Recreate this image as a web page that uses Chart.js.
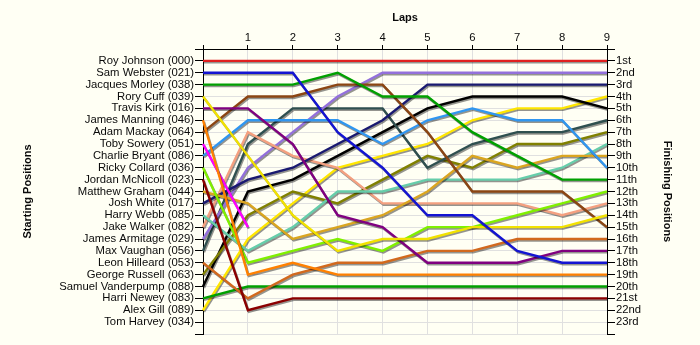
<!DOCTYPE html>
<html>
<head>
<meta charset="utf-8">
<script src="https://cdn.jsdelivr.net/npm/chart.js@4.4.1/dist/chart.umd.min.js"></script>
<style>
  html, body { margin: 0; padding: 0; background: #fffff4; }
  canvas { display: block; background: #fffff4; }
</style>
</head>
<body>
<canvas id="lapChart" width="700" height="345"></canvas>
<script>
// Grid order (left axis) and finishing places (right axis)
const drivers = [
  'Roy Johnson (000)', 'Sam Webster (021)', 'Jacques Morley (038)', 'Rory Cuff (039)',
  'Travis Kirk (016)', 'James Manning (046)', 'Adam Mackay (064)', 'Toby Sowery (051)',
  'Charlie Bryant (086)', 'Ricky Collard (036)', 'Jordan McNicoll (023)', 'Matthew Graham (044)',
  'Josh White (017)', 'Harry Webb (085)', 'Jake Walker (082)', 'James Armitage (029)',
  'Max Vaughan (056)', 'Leon Hilleard (053)', 'George Russell (063)', 'Samuel Vanderpump (088)',
  'Harri Newey (083)', 'Alex Gill (089)', 'Tom Harvey (034)'
];
const finishLabels = [
  '1st', '2nd', '3rd', '4th', '5th', '6th', '7th', '8th', '9th', '10th', '11th', '12th',
  '13th', '14th', '15th', '16th', '17th', '18th', '19th', '20th', '21st', '22nd', '23rd'
];
const lapLabels = ['', '1', '2', '3', '4', '5', '6', '7', '8', '9'];

// Running order after each lap (index 0 = starting grid)
const royJohnson       = [1, 1, 1, 1, 1, 1, 1, 1, 1, 1];
const samWebster       = [2, 2, 2, 7, 10, 14, 14, 17, 18, 18];
const jacquesMorley    = [3, 3, 3, 2, 4, 4, 7, 9, 11, 11];
const roryCuff         = [4, 9, 14, 17, 16, 16, 15, 15, 15, 14];
const travisKirk       = [5, 5, 8, 14, 15, 18, 18, 18, 17, 17];
const jamesManning     = [6, 19, 18, 19, 19, 19, 19, 19, 19, 19];
const adamMackay       = [7, 4, 4, 3, 3, 7, 12, 12, 12, 15];
const tobySowery       = [8, 15];
const charlieBryant    = [9, 6, 6, 6, 8, 6, 5, 6, 6, 10];
const rickyCollard     = [10, 18, 17, 16, 17, 15, 15, 14, 13, 12];
const jordanMcNicoll   = [11, 22, 21, 21, 21, 21, 21, 21, 21, 21];
const matthewGraham    = [12, 13, 16, 15, 14, 12, 9, 10, 9, 9];
const joshWhite        = [13, 11, 10, 8, 6, 3, 3, 3, 3, 3];
const harryWebb        = [14, 17, 15, 12, 12, 11, 11, 11, 10, 8];
const jakeWalker       = [15, 7, 9, 10, 13, 13, 13, 13, 14, 13];
const jamesArmitage    = [16, 10, 7, 4, 2, 2, 2, 2, 2, 2];
const maxVaughan       = [17, 8, 5, 5, 5, 10, 8, 7, 7, 6];
const leonHilleard     = [18, 21, 19, 18, 18, 17, 17, 16, 16, 16];
const georgeRussell    = [19, 14, 12, 13, 11, 9, 10, 8, 8, 7];
const samuelVanderpump = [20, 12, 11, 9, 7, 5, 4, 4, 4, 5];
const harriNewey       = [21, 20, 20, 20, 20, 20, 20, 20, 20, 20];
const alexGill         = [22, 16, 13, 10, 9, 8, 6, 5, 5, 4];
const tomHarvey        = [];

const runningOrder = [
  royJohnson, samWebster, jacquesMorley, roryCuff, travisKirk, jamesManning, adamMackay,
  tobySowery, charlieBryant, rickyCollard, jordanMcNicoll, matthewGraham, joshWhite,
  harryWebb, jakeWalker, jamesArmitage, maxVaughan, leonHilleard, georgeRussell,
  samuelVanderpump, harriNewey, alexGill, tomHarvey
];

const lineColours = [
  '#e02020', '#1414d2', '#00a000', '#f2e200', '#800080', '#ff8000', '#8b4513',
  '#ff00ff', '#3096f0', '#80f000', '#8b0000', '#daa520', '#191970',
  '#66cdaa', '#f4a080', '#9370db', '#2f4f4f', '#d2691e', '#808000',
  '#000000', '#00a000', '#ffe600', '#808080'
];

const FONT = 'Liberation Sans, Arial, sans-serif';
const TEXT = '#0a0a0a';

// Soft grey drop shadow under every race line
const lineShadow = {
  id: 'lineShadow',
  beforeDatasetDraw(chart) {
    const c = chart.ctx;
    c.save();
    c.shadowColor = 'rgba(0,0,0,0.42)';
    c.shadowOffsetX = 1;
    c.shadowOffsetY = 1.5;
    c.shadowBlur = 0;
  },
  afterDatasetDraw(chart) {
    chart.ctx.restore();
  }
};

const datasets = drivers.map((name, i) => ({
  label: name,
  data: runningOrder[i].map((pos, lap) => ({ x: lap, y: pos })),
  borderColor: lineColours[i],
  backgroundColor: lineColours[i],
  borderWidth: 2.4,
  pointRadius: 0,
  pointHoverRadius: 0,
  tension: 0,
  fill: false,
  clip: false
}));

const gridColour = '#e0e0e0';

new Chart(document.getElementById('lapChart'), {
  type: 'line',
  data: { datasets },
  plugins: [lineShadow],
  options: {
    responsive: false,
    animation: false,
    layout: { padding: { top: 0, left: 0, right: 0, bottom: 11 } },
    plugins: { legend: { display: false }, tooltip: { enabled: false } },
    scales: {
      x: {
        type: 'linear',
        position: 'top',
        min: 0,
        max: 9,
        afterFit(scale) { scale.height = 49; },
        ticks: {
          stepSize: 1,
          autoSkip: false,
          maxRotation: 0,
          padding: 0,
          color: TEXT,
          font: { family: FONT, size: 11.3 },
          callback: (v) => lapLabels[v] ?? ''
        },
        grid: { color: gridColour, tickColor: '#000', tickLength: 4, lineWidth: 1 },
        border: { display: true, color: '#000', width: 1 },
        title: {
          display: true,
          text: 'Laps',
          color: TEXT,
          font: { family: FONT, size: 11, weight: 'bold' },
          padding: { top: 11, bottom: 0 }
        }
      },
      y: {
        type: 'linear',
        position: 'left',
        reverse: true,
        min: 0,
        max: 24,
        afterFit(scale) { scale.width = 203; },
        ticks: {
          stepSize: 1,
          autoSkip: false,
          maxTicksLimit: 40,
          padding: 1,
          color: TEXT,
          font: { family: FONT, size: 11.3 },
          callback: (v) => drivers[v - 1] ?? ''
        },
        grid: { color: gridColour, tickColor: '#000', tickLength: 8, lineWidth: 1 },
        border: { display: true, color: '#000', width: 1 },
        title: {
          display: true,
          text: 'Starting Positions',
          color: TEXT,
          font: { family: FONT, size: 11, weight: 'bold' },
          padding: { top: 21, bottom: 0 }
        }
      },
      yFinish: {
        type: 'linear',
        position: 'right',
        reverse: true,
        min: 0,
        max: 24,
        afterFit(scale) { scale.width = 93; },
        ticks: {
          stepSize: 1,
          autoSkip: false,
          maxTicksLimit: 40,
          padding: 1,
          color: TEXT,
          font: { family: FONT, size: 11.3 },
          callback: (v) => finishLabels[v - 1] ?? ''
        },
        grid: { drawOnChartArea: false, tickColor: '#000', tickLength: 8, lineWidth: 1 },
        border: { display: true, color: '#000', width: 1 },
        title: {
          display: true,
          text: 'Finishing Positions',
          color: TEXT,
          font: { family: FONT, size: 11, weight: 'bold' },
          padding: { top: 26, bottom: 0 }
        }
      }
    }
  }
});
</script>
</body>
</html>
